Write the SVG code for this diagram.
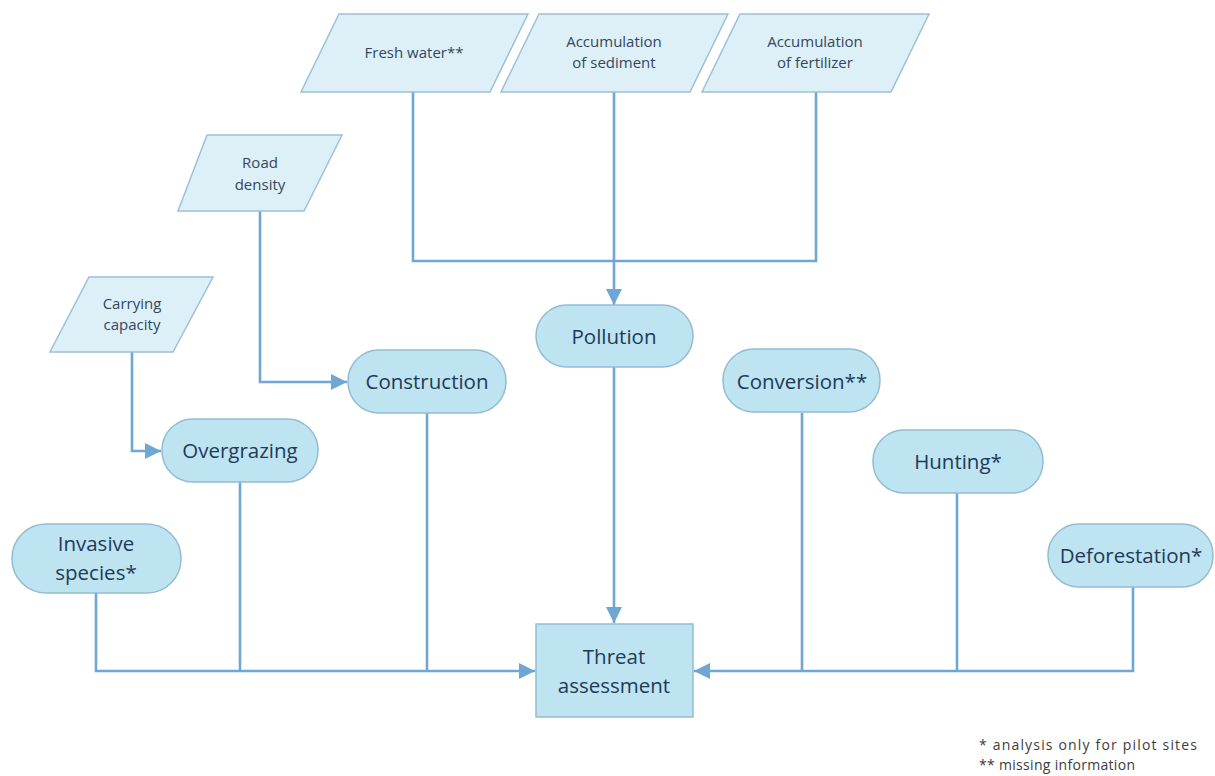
<svg xmlns="http://www.w3.org/2000/svg" width="1215" height="776" viewBox="0 0 1215 776">
<style>
.para{fill:#ddf0f8;stroke:#9dc0d6;stroke-width:1.5}
.pill{fill:#bde4f0;stroke:#93bcd3;stroke-width:1.5}
.box{fill:#bde4f0;stroke:#93bcd3;stroke-width:1.5}
.pt{font-family:"Open Sans","Liberation Sans",sans-serif;font-size:15px;fill:#34475c;text-anchor:middle}
.nt{font-family:"Open Sans","Liberation Sans",sans-serif;font-size:20.5px;fill:#1f3a58;text-anchor:middle}
.ft{font-family:"Open Sans","Liberation Sans",sans-serif;font-size:14px;fill:#3c3c3c}
.c{fill:none;stroke:#6ea6d4;stroke-width:2.6}
</style>
<defs>
<marker id="arr" markerUnits="userSpaceOnUse" markerWidth="17" markerHeight="16" refX="16" refY="8" orient="auto">
<path d="M0,0 L16,8 L0,16 z" fill="#6ea6d4"/>
</marker>
</defs>
<rect width="1215" height="776" fill="#ffffff"/>
<g id="connectors">
<path class="c" d="M413,92 V261 H816 V92"/>
<path class="c" d="M614,92 V305" marker-end="url(#arr)"/>
<path class="c" d="M260,211 V382 H347" marker-end="url(#arr)"/>
<path class="c" d="M132,352 V451 H161" marker-end="url(#arr)"/>
<path class="c" d="M614,367 V623" marker-end="url(#arr)"/>
<path class="c" d="M96,593 V671 H535" marker-end="url(#arr)"/>
<path class="c" d="M240,482 V671"/>
<path class="c" d="M427,413 V671"/>
<path class="c" d="M1133,587 V671 H694" marker-end="url(#arr)"/>
<path class="c" d="M802,413 V671"/>
<path class="c" d="M957,493 V671"/>
</g>
<g id="fresh-water">
<polygon class="para" points="339,14 528,14 490,92 301,92"/>
<text class="pt" x="414" y="58">Fresh water**</text>
</g>
<g id="sediment">
<polygon class="para" points="539,14 728,14 690,92 501,92"/>
<text class="pt" x="614" y="47">Accumulation</text>
<text class="pt" x="614" y="68">of sediment</text>
</g>
<g id="fertilizer">
<polygon class="para" points="740,14 929,14 891,92 702,92"/>
<text class="pt" x="815" y="47">Accumulation</text>
<text class="pt" x="815" y="68">of fertilizer</text>
</g>
<g id="road-density">
<polygon class="para" points="207,135 342,135 304,211 178,211"/>
<text class="pt" x="260" y="168">Road</text>
<text class="pt" x="260" y="190">density</text>
</g>
<g id="carrying-capacity">
<polygon class="para" points="89,277 213,277 173,352 50,352"/>
<text class="pt" x="132" y="309">Carrying</text>
<text class="pt" x="132" y="330">capacity</text>
</g>
<g id="pollution">
<rect class="pill" x="536" y="305" width="157" height="62" rx="31"/>
<text class="nt" x="614" y="344">Pollution</text>
</g>
<g id="construction">
<rect class="pill" x="348" y="350" width="158" height="63" rx="31"/>
<text class="nt" x="427" y="389">Construction</text>
</g>
<g id="overgrazing">
<rect class="pill" x="162" y="419" width="156" height="63" rx="31"/>
<text class="nt" x="240" y="458">Overgrazing</text>
</g>
<g id="invasive-species">
<rect class="pill" x="12" y="524" width="169" height="69" rx="34"/>
<text class="nt" x="96" y="551">Invasive</text>
<text class="nt" x="96" y="580">species*</text>
</g>
<g id="conversion">
<rect class="pill" x="723" y="349" width="157" height="63" rx="31"/>
<text class="nt" x="802" y="389">Conversion**</text>
</g>
<g id="hunting">
<rect class="pill" x="873" y="430" width="170" height="63" rx="31"/>
<text class="nt" x="958" y="469">Hunting*</text>
</g>
<g id="deforestation">
<rect class="pill" x="1048" y="524" width="165" height="63" rx="31"/>
<text class="nt" x="1131" y="563">Deforestation*</text>
</g>
<g id="threat-assessment">
<rect class="box" x="536" y="624" width="157" height="93"/>
<text class="nt" x="614" y="664">Threat</text>
<text class="nt" x="614" y="693">assessment</text>
</g>
<g id="footnote">
<text class="ft" x="979" y="750" textLength="218" lengthAdjust="spacing">* analysis only for pilot sites</text>
<text class="ft" x="979" y="770" textLength="156" lengthAdjust="spacing">** missing information</text>
</g>
</svg>
